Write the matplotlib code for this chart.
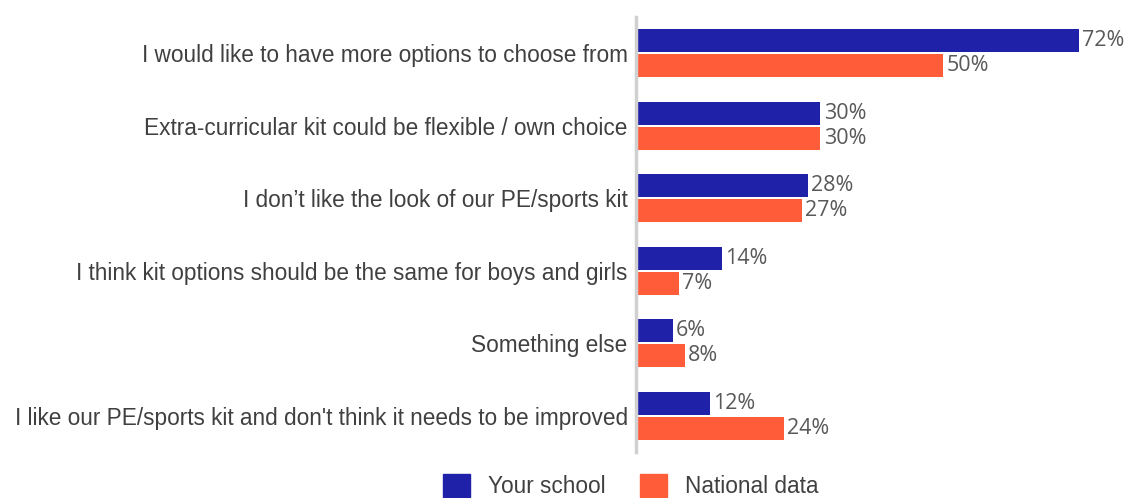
import numpy as np
import matplotlib.pyplot as plt
from matplotlib.patches import Patch

categories = [
    "I would like to have more options to choose from",
    "Extra-curricular kit could be flexible / own choice",
    "I don\u2019t like the look of our PE/sports kit",
    "I think kit options should be the same for boys and girls",
    "Something else",
    "I like our PE/sports kit and don't think it needs to be improved",
]
school = [72, 30, 28, 14, 6, 12]
national = [50, 30, 27, 7, 8, 24]
series_names = ["Your school", "National data"]

blue = "#1f22a8"
orange = "#ff5c39"

fig = plt.figure(figsize=(11.27, 4.98), dpi=100)
ax = fig.add_axes([636 / 1127, 1 - 452 / 498, 0.43, 435 / 498])

y = np.arange(len(categories))
h = 0.317
off = 0.172
ax.barh(y - off, school, height=h, color=blue)
ax.barh(y + off, national, height=h, color=orange)

# value labels just past the bar ends
for yi, v in zip(y, school):
    ax.text(v + 0.5, yi - off, f"{v}%", va="center", ha="left",
            fontsize=15.5, color="#595959", family="Open Sans")
for yi, v in zip(y, national):
    ax.text(v + 0.5, yi + off, f"{v}%", va="center", ha="left",
            fontsize=15.5, color="#595959", family="Open Sans")

ax.set_ylim(len(categories) - 0.5, -0.5)
ax.set_xlim(0, 78.8)
ax.set_yticks(y)
ax.set_yticklabels(categories, fontsize=16.3, color="#404040", family="Liberation Sans")
ax.tick_params(axis="y", length=0, pad=6)
ax.set_xticks([])
for s in ["top", "right", "bottom"]:
    ax.spines[s].set_visible(False)
ax.spines["left"].set_color("#d0d0d0")
ax.spines["left"].set_linewidth(2.5)

handles = [Patch(color=blue), Patch(color=orange)]
fig.legend(handles, series_names, loc="center", bbox_to_anchor=(631 / 1127, 1 - 486 / 498),
           ncol=2, frameon=False, handlelength=1.2, handleheight=1.2,
           columnspacing=1.5, handletextpad=0.8,
           prop={"family": "Liberation Sans", "size": 16.3})
for t in fig.legends[0].get_texts():
    t.set_color("#404040")

fig.savefig("out.png", dpi=100)
